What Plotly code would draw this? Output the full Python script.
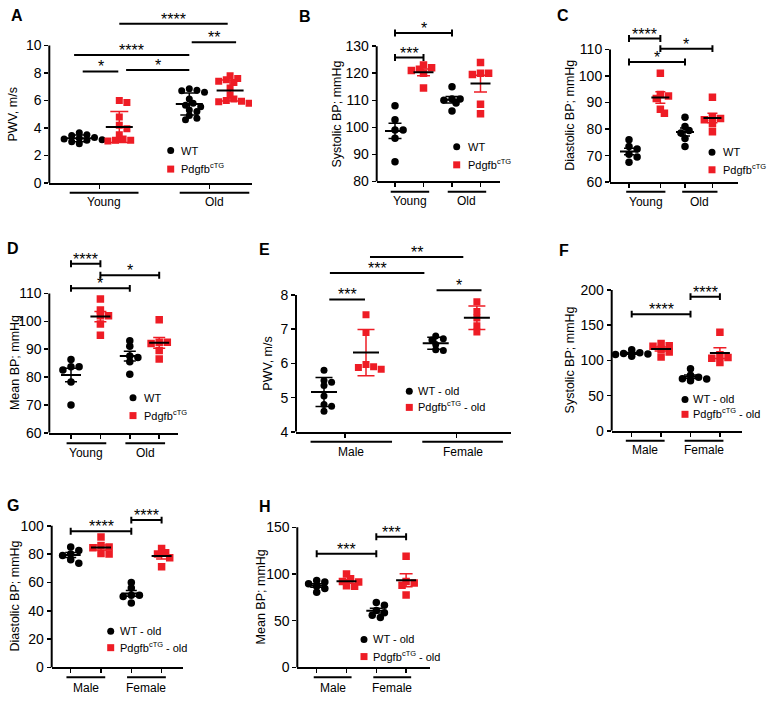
import numpy as np
import plotly.graph_objects as go

W, H = 774, 715
FONT = "Liberation Sans, Arial, sans-serif"
BLACK = "#000000"
RED = "#EE1C25"

# ---------------- data ----------------
# A: PWV, m/s (mean ± SD)
A_young_wt = [3.65, 3.5, 3.45, 3.3, 3.25, 3.2, 3.15, 3.1, 3.0, 2.85]
A_young_tg = [6.0, 5.85, 4.8, 4.2, 3.95, 3.5, 3.2, 3.1, 3.1, 3.05]
A_old_wt = [6.85, 6.75, 6.7, 6.6, 6.1, 5.8, 5.65, 5.55, 5.3, 5.2, 4.9, 4.7, 4.6]
A_old_tg = [7.8, 7.6, 7.5, 7.4, 7.3, 6.9, 6.4, 6.1, 6.0, 5.95, 5.9, 5.8]
# B: Systolic BP (mean ± SEM)
B_young_wt = [108, 102.8, 99, 99, 96, 87.3]
B_young_tg = [123, 122, 121.5, 121, 120, 114.5]
B_old_wt = [115, 110.5, 110.5, 110, 109, 106]
B_old_tg = [124, 120, 120, 119.5, 108.5, 105]
# C: Diastolic BP
C_young_wt = [76, 73.5, 72.5, 70.5, 69.5, 67.5]
C_young_tg = [101, 93, 92.5, 91.5, 87.5, 86]
C_old_wt = [84.5, 81, 79.5, 78.5, 76.5, 73.5]
C_old_tg = [92, 84.5, 84, 83.5, 82, 79]
# D: Mean BP
D_young_wt = [86.3, 83.7, 83.7, 82.5, 78.2, 70]
D_young_tg = [108, 104, 102, 102, 99, 95]
D_old_wt = [93, 91, 87.5, 87, 85.5, 81]
D_old_tg = [100.5, 92.5, 92.5, 92, 89.5, 86.5]
# E: PWV old, by sex (mean ± SD)
E_male_wt = [5.8, 5.5, 5.45, 5.35, 5.05, 4.8, 4.75, 4.6]
E_male_tg = [7.42, 6.9, 5.97, 5.9, 5.88, 5.83]
E_female_wt = [6.8, 6.72, 6.68, 6.55, 6.4, 6.38]
E_female_tg = [7.8, 7.52, 7.33, 7.1, 6.92]
# F: Systolic BP old, by sex
F_male_wt = [115, 111, 110, 109, 108.5, 106]
F_male_tg = [124, 121, 120, 116, 112, 105]
F_female_wt = [88, 79, 76, 74, 73.5, 71]
F_female_tg = [140, 108, 104, 103, 97]
# G: Diastolic BP old, by sex
G_male_wt = [85, 82.5, 80, 79, 76, 73.5]
G_male_tg = [92, 86, 85, 84.5, 80.5, 80]
G_female_wt = [60, 56, 51, 51, 50, 45.5]
G_female_tg = [84, 81, 80, 77.5, 71]
# H: Mean BP old, by sex
H_male_wt = [93, 91.5, 89.5, 87, 84.5, 80.5]
H_male_tg = [100, 95, 92, 91.5, 87.5, 87]
H_female_wt = [69.5, 66.5, 61, 58.5, 56, 53.5]
H_female_tg = [119, 92, 90.5, 88, 77.5]

# tick values
A_yticks = [0, 2, 4, 6, 8, 10]
B_yticks = [80, 90, 100, 110, 120, 130]
C_yticks = [60, 70, 80, 90, 100, 110]
D_yticks = [60, 70, 80, 90, 100, 110]
E_yticks = [4, 5, 6, 7, 8]
F_yticks = [0, 50, 100, 150, 200]
G_yticks = [0, 20, 40, 60, 80, 100]
H_yticks = [0, 50, 100, 150]

AGE_GROUPS = ["Young", "Old"]
SEX_GROUPS = ["Male", "Female"]
# legend entries: WT label, (transgenic base, superscript, suffix)
LEG_AGE = ["WT", ("Pdgfb", "cTG", "")]
LEG_OLD = ["WT - old", ("Pdgfb", "cTG", "- old")]

# significance: (from, to, height in axis units, label)
A_sig = [(0.085, 0.975, 8.11, "*"), (1.17, 2.75, 8.22, "*"), (-0.13, 2.75, 9.3, "****"),
         (2.81, 3.92, 10.24, "**"), (1.0, 3.71, 11.58, "****")]
B_sig = [(0, 1, 125.8, "***"), (0, 2, 134.9, "*")]
C_sig = [(0, 1.12, 114.1, "****"), (0, 2.0, 105.3, "*"), (1.12, 2.98, 110.3, "*")]
D_sig = [(0, 1, 120.6, "****"), (0, 2, 111.8, "*"), (1, 3, 116.5, "*")]
E_sig = [(0.126, 0.976, 7.87, "***"), (0.14, 2.39, 8.64, "***"),
         (1.095, 3.317, 9.11, "**"), (2.68, 3.75, 8.14, "*")]
F_sig = [(0, 2, 165.7, "****"), (2, 3, 190.6, "****")]
G_sig = [(0, 2, 96.1, "****"), (2, 3, 104, "****")]
H_sig = [(0, 2, 121.7, "***"), (2, 3, 140, "***")]

# ---------------- layout of the panels (pixels) ----------------
PANELS = [
    dict(letter="A", data=[A_young_wt, A_young_tg, A_old_wt, A_old_tg], err="sd",
         yticks=A_yticks, groups=AGE_GROUPS, legend=LEG_AGE, title="PWV, m/s", sig=A_sig, caps=False,
         left=49.3, right=252, col0=79.3, unit=40, slots=[0, 1, 2.75, 3.77], xt="group",
         ybot=185, ytt=46, dtop=5, uline=195, lab=204.5, pad=(0.24, 0.48),
         let=(9, 15.5), tx=13.3, lg=(170.7, 152.3, 171, 180), mw=27, cap=9, ms=7),
    dict(letter="B", data=[B_young_wt, B_young_tg, B_old_wt, B_old_tg], err="sem",
         yticks=B_yticks, groups=AGE_GROUPS, legend=LEG_AGE, title="Systolic BP; mmHg", sig=B_sig, caps=True,
         left=376.7, right=500, col0=395, unit=28.5, slots=[0, 1, 2, 3], xt="cols",
         ybot=183.5, ytt=46.7, dtop=5, uline=194, lab=203.5, pad=(0.15, 0.2),
         let=(297, 16.7), tx=336.7, lg=(456.7, 148.3, 166.7, 466.7), mw=20, cap=6.5, ms=7.5),
    dict(letter="C", data=[C_young_wt, C_young_tg, C_old_wt, C_old_tg], err="sem",
         yticks=C_yticks, groups=AGE_GROUPS, legend=LEG_AGE, title="Diastolic BP; mmHg", sig=C_sig, caps=True,
         left=610, right=738, col0=629, unit=28, slots=[0, 1.12, 2.0, 2.98], xt="cols",
         ybot=184.3, ytt=50, dtop=5, uline=194, lab=204, pad=(0.1, 0.18),
         let=(555, 15.8), tx=570, lg=(712, 154, 171.7, 722), mw=18, cap=5, ms=7.5),
    dict(letter="D", data=[D_young_wt, D_young_tg, D_old_wt, D_old_tg], err="sem",
         yticks=D_yticks, groups=AGE_GROUPS, legend=LEG_AGE, title="Mean BP; mmHg", sig=D_sig, caps=True,
         left=49.3, right=178, col0=71, unit=29.4, slots=[0, 1, 2, 3], xt="cols",
         ybot=437.7, ytt=296.7, dtop=240, uline=448.3, lab=458, pad=(0.15, 0.2),
         let=(5, 251.7), tx=15, lg=(133, 402.3, 420.3, 142.7), mw=20, cap=6, ms=7.5),
    dict(letter="E", data=[E_male_wt, E_male_tg, E_female_wt, E_female_tg], err="sd",
         yticks=E_yticks, groups=SEX_GROUPS, legend=LEG_OLD, title="PWV, m/s", sig=E_sig, caps=False,
         left=296, right=510.7, col0=324, unit=42, slots=[0, 1, 2.66, 3.64], xt="group",
         ybot=436.7, ytt=298.3, dtop=240, uline=446.7, lab=456.7, pad=(0.32, 0.62),
         let=(257, 252), tx=268.3, lg=(409.3, 395.7, 412, 416.7), mw=26, cap=8.5, ms=7),
    dict(letter="F", data=[F_male_wt, F_male_tg, F_female_wt, F_female_tg], err="sem",
         yticks=F_yticks, groups=SEX_GROUPS, legend=LEG_OLD, title="Systolic BP; mmHg", sig=F_sig, caps=True,
         left=611.7, right=741.7, col0=631.7, unit=29.4, slots=[0, 1, 2, 3], xt="cols",
         ybot=435.7, ytt=293.3, dtop=240, uline=445.7, lab=455, pad=(0.2, 0.12),
         let=(557, 253), tx=570, lg=(685, 404, 419, 691.7), mw=20, cap=6.5, ms=7.5),
    dict(letter="G", data=[G_male_wt, G_male_tg, G_female_wt, G_female_tg], err="sem",
         yticks=G_yticks, groups=SEX_GROUPS, legend=LEG_OLD, title="Diastolic BP; mmHg", sig=G_sig, caps=True,
         left=51.7, right=183.3, col0=70.7, unit=30.3, slots=[0, 1, 2, 3], xt="cols",
         ybot=675, ytt=531.7, dtop=500, uline=685, lab=695.5, pad=(0.14, 0.14),
         let=(5, 511.7), tx=15, lg=(110.7, 638.3, 655, 119), mw=20, cap=5.5, ms=7.5),
    dict(letter="H", data=[H_male_wt, H_male_tg, H_female_wt, H_female_tg], err="sem",
         yticks=H_yticks, groups=SEX_GROUPS, legend=LEG_OLD, title="Mean BP; mmHg", sig=H_sig, caps=True,
         left=297.3, right=430, col0=316.7, unit=29.8, slots=[0, 1, 2, 3], xt="cols",
         ybot=675, ytt=533.3, dtop=500, uline=685, lab=695.5, pad=(0.1, 0.17),
         let=(257, 512), tx=261, lg=(364, 646.7, 664, 371.7), mw=20, cap=6.5, ms=7.5),
]

COLORS = [BLACK, RED, BLACK, RED]
SYMBOLS = ["circle", "square", "circle", "square"]
LEG_SIZE = 11
SUP_SIZE = 7.5

# Arial / Liberation Sans advance widths (em) used to place superscript pieces
ADV = {"P": 0.667, "d": 0.556, "g": 0.556, "f": 0.278, "b": 0.556, "c": 0.5, "T": 0.611,
       "G": 0.778, " ": 0.278, "-": 0.333, "o": 0.556, "l": 0.222}


def text_w(s, size):
    return sum(ADV.get(ch, 0.556) for ch in s) * size


def px_x(px):
    return px / W


def px_y(py):
    return 1 - py / H


def swarm(vals, ppu, unit, d):
    """Horizontal dodge so that markers overlap only partly (pixel space)."""
    vals = np.asarray(vals, dtype=float)
    order = np.argsort(-vals, kind="stable")
    placed = []
    offs = np.zeros(len(vals))
    step = d / 2.0
    for i in order:
        yp = vals[i] * ppu
        cand = 0.0
        for k in range(0, 60):
            cand = 0.0 if k == 0 else ((k + 1) // 2) * step * (1 if k % 2 else -1)
            if all((cand - xq) ** 2 + (yp - yq) ** 2 >= (d * 0.68) ** 2 for xq, yq in placed):
                break
        placed.append((cand, yp))
        offs[i] = cand / unit
    return offs


def text_ann(xpx, ypx, txt, size, **kw):
    return dict(xref="paper", yref="paper", x=px_x(xpx), y=px_y(ypx), text=txt, showarrow=False,
                xanchor="left", yanchor="middle", borderpad=0,
                font=dict(size=size, family=FONT, color=BLACK), **kw)


fig = go.Figure()
shapes, annotations = [], []
layout = {}

for n, p in enumerate(PANELS, start=1):
    xa = "x" if n == 1 else f"x{n}"
    ya = "y" if n == 1 else f"y{n}"
    xkey = "xaxis" if n == 1 else f"xaxis{n}"
    ykey = "yaxis" if n == 1 else f"yaxis{n}"
    unit, col0, slots = p["unit"], p["col0"], p["slots"]
    ymin, ytop = p["yticks"][0], p["yticks"][-1]
    ppu = (p["ybot"] - p["ytt"]) / (ytop - ymin)
    yr1 = ymin + (p["ybot"] - p["dtop"]) / ppu
    xr = [(p["left"] - col0) / unit, (p["right"] - col0) / unit]

    if p["xt"] == "group":
        xtv = [(slots[0] + slots[1]) / 2, (slots[2] + slots[3]) / 2]
    else:
        xtv = list(slots)

    layout[xkey] = dict(domain=[px_x(p["left"]), px_x(p["right"])], range=xr, anchor=ya,
                        showline=True, linewidth=2, linecolor=BLACK, ticks="outside", ticklen=4,
                        tickwidth=1.5, tickcolor=BLACK, tickvals=xtv, showticklabels=False,
                        showgrid=False, zeroline=False, fixedrange=True)
    layout[ykey] = dict(domain=[px_y(p["ybot"]), px_y(p["dtop"])], range=[ymin, yr1], anchor=xa,
                        showline=False, ticks="outside", ticklen=4, tickwidth=1.5, tickcolor=BLACK,
                        tickvals=p["yticks"], tickfont=dict(size=14, family=FONT, color=BLACK),
                        showgrid=False, zeroline=False, fixedrange=True)

    # y spine only up to the top tick
    shapes.append(dict(type="line", xref=f"{xa} domain", yref=ya, x0=0, x1=0, y0=ymin, y1=ytop,
                       line=dict(color=BLACK, width=2)))

    # points
    for gi, vals in enumerate(p["data"]):
        offs = swarm(vals, ppu, unit, p["ms"] + 0.6)
        fig.add_trace(go.Scatter(x=slots[gi] + offs, y=vals, mode="markers", xaxis=xa, yaxis=ya,
                                 marker=dict(symbol=SYMBOLS[gi], size=p["ms"], color=COLORS[gi],
                                             line=dict(width=0)),
                                 showlegend=False, hoverinfo="skip"))
    # mean and error
    for gi, vals in enumerate(p["data"]):
        v = np.asarray(vals, dtype=float)
        sd = v.std(ddof=1)
        err = sd if p["err"] == "sd" else sd / np.sqrt(len(v))
        fig.add_trace(go.Scatter(x=[slots[gi]], y=[v.mean()], mode="markers", xaxis=xa, yaxis=ya,
                                 marker=dict(symbol="line-ew", size=p["mw"] / 1.4, color=BLACK,
                                             line=dict(width=2, color=BLACK)),
                                 error_y=dict(type="data", array=[err], visible=True, width=p["cap"],
                                              thickness=1.5, color=COLORS[gi]),
                                 showlegend=False, hoverinfo="skip"))

    # significance brackets
    capu = 3.5 / ppu
    for (x0, x1, yv, lab) in p["sig"]:
        if p["caps"]:
            path = (f"M{x0},{yv - capu} L{x0},{yv + capu} M{x0},{yv} L{x1},{yv} "
                    f"M{x1},{yv - capu} L{x1},{yv + capu}")
            shapes.append(dict(type="path", xref=xa, yref=ya, path=path,
                               line=dict(color=BLACK, width=2)))
        else:
            shapes.append(dict(type="line", xref=xa, yref=ya, x0=x0, x1=x1, y0=yv, y1=yv,
                               line=dict(color=BLACK, width=2)))
        annotations.append(dict(xref=xa, yref=ya, x=(x0 + x1) / 2, y=yv, text=lab, showarrow=False,
                                yanchor="bottom", xanchor="center", yshift=-6,
                                font=dict(size=16, family=FONT, color=BLACK)))

    # group underlines + labels
    padl, padr = p["pad"]
    for k, gname in enumerate(p["groups"]):
        gx0 = slots[2 * k] - padl
        gx1 = slots[2 * k + 1] + padr
        shapes.append(dict(type="line", xref=xa, yref="paper", x0=gx0, x1=gx1,
                           y0=px_y(p["uline"]), y1=px_y(p["uline"]), line=dict(color=BLACK, width=2)))
        annotations.append(dict(xref=xa, yref="paper", x=(gx0 + gx1) / 2, y=px_y(p["lab"]),
                                text=gname, showarrow=False, xanchor="center", yanchor="middle",
                                font=dict(size=12, family=FONT, color=BLACK)))

    # y title
    annotations.append(dict(xref="paper", yref="paper", x=px_x(p["tx"]),
                            y=px_y((p["ybot"] + p["ytt"]) / 2), text=p["title"], textangle=-90,
                            showarrow=False, xanchor="center", yanchor="middle",
                            font=dict(size=12.5, family=FONT, color=BLACK)))

    # panel letter
    lx, ly = p["let"]
    annotations.append(dict(xref="paper", yref="paper", x=px_x(lx), y=px_y(ly), text=f"<b>{p['letter']}</b>",
                            showarrow=False, xanchor="left", yanchor="middle",
                            font=dict(size=16, family=FONT, color=BLACK)))

    # legend (markers + text; superscript drawn as its own smaller raised text)
    mx, my1, my2, tx = p["lg"]
    r = 3.5
    shapes.append(dict(type="circle", xref="paper", yref="paper", xsizemode="pixel", ysizemode="pixel",
                       xanchor=px_x(mx), yanchor=px_y(my1), x0=-r, x1=r, y0=-r, y1=r,
                       fillcolor=BLACK, line=dict(width=0)))
    shapes.append(dict(type="rect", xref="paper", yref="paper", xsizemode="pixel", ysizemode="pixel",
                       xanchor=px_x(mx), yanchor=px_y(my2), x0=-r, x1=r, y0=-r, y1=r,
                       fillcolor=RED, line=dict(width=0)))
    wt_label = p["legend"][0]
    base, sup, tail = p["legend"][1]
    annotations.append(text_ann(tx, my1, wt_label, LEG_SIZE))
    annotations.append(text_ann(tx, my2, base, LEG_SIZE))
    sx = tx + text_w(base, LEG_SIZE) + 0.3
    annotations.append(text_ann(sx, my2 - 3.6, sup, SUP_SIZE))
    if tail:
        annotations.append(text_ann(sx + text_w(sup, SUP_SIZE) + text_w(" ", LEG_SIZE), my2, tail, LEG_SIZE))

fig.update_layout(width=W, height=H, margin=dict(l=0, r=0, t=0, b=0), autosize=False,
                  paper_bgcolor="white", plot_bgcolor="rgba(0,0,0,0)", showlegend=False,
                  font=dict(family=FONT, color=BLACK), shapes=shapes, annotations=annotations,
                  **layout)

fig.write_html("out.html", config={"displayModeBar": False, "staticPlot": True},
               post_script="document.body.style.margin='0px';document.body.style.overflow='hidden';")
